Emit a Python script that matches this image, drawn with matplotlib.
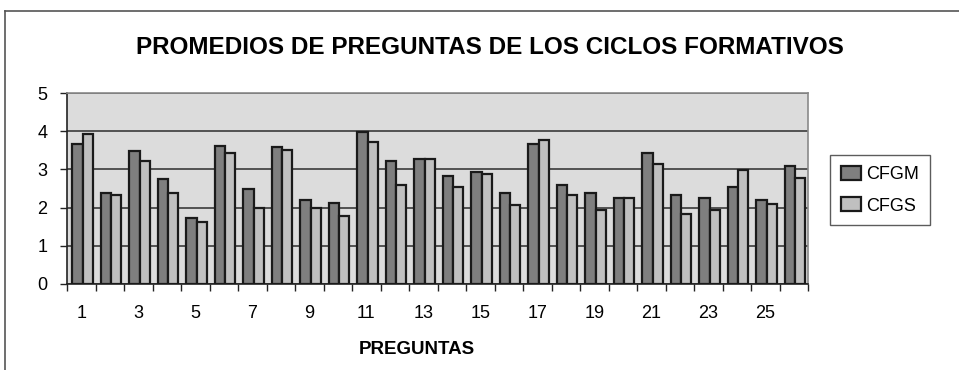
import matplotlib.pyplot as plt
import numpy as np
from matplotlib.lines import Line2D

plt.rcParams['font.family'] = ['Liberation Sans', 'DejaVu Sans']

preguntas = list(range(1, 27))
cfgm = [3.67, 2.38, 3.48, 2.74, 1.74, 3.62, 2.48, 3.58, 2.19, 2.13,
        3.98, 3.23, 3.28, 2.82, 2.93, 2.38, 3.67, 2.58, 2.38, 2.24,
        3.43, 2.33, 2.24, 2.53, 2.19, 3.08]
cfgs = [3.92, 2.33, 3.23, 2.38, 1.63, 3.43, 2.00, 3.52, 2.00, 1.79,
        3.72, 2.58, 3.28, 2.53, 2.88, 2.08, 3.77, 2.33, 1.93, 2.24,
        3.13, 1.84, 1.93, 2.98, 2.09, 2.78]
tick_labels = [str(p) if p % 2 == 1 else '' for p in preguntas]

fig = plt.figure(figsize=(9.59, 3.70), dpi=100)
ax = fig.add_axes([67 / 959, 86 / 370, 741 / 959, 191 / 370])
ax.set_facecolor('#dcdcdc')

x = np.array(preguntas)
w = 0.36
ax.bar(x - w / 2 + 0.05, cfgm, w, color='#7f7f7f', edgecolor='#1a1a1a',
       linewidth=1.6, label='CFGM', zorder=3)
ax.bar(x + w / 2 + 0.05, cfgs, w, color='#c0c0c0', edgecolor='#1a1a1a',
       linewidth=1.6, label='CFGS', zorder=3)

ax.set_xlim(0.5, 26.5)
ax.set_ylim(0, 5)
ax.set_yticks(range(6))
ax.yaxis.grid(True, color='#3a3a3a', linewidth=1.2, zorder=1)
ax.set_axisbelow(True)

# category ticks at the boundaries, labels on odd categories
ax.set_xticks(np.arange(0.5, 27, 1), minor=False)
ax.set_xticklabels([''] * 27)
ax.set_xticks(x, minor=True)
ax.set_xticklabels(tick_labels, minor=True)
ax.tick_params(axis='x', which='minor', length=0, pad=15, labelsize=13)
ax.tick_params(axis='x', which='major', length=5, width=1, color='#222222')
ax.tick_params(axis='y', length=5, width=1, color='#222222', labelsize=13, pad=9)

for s in ['top', 'right']:
    ax.spines[s].set_color('#8a8a8a')
    ax.spines[s].set_linewidth(1.2)
for s in ['left', 'bottom']:
    ax.spines[s].set_color('#222222')
    ax.spines[s].set_linewidth(1.2)

fig.text(417 / 959, 1 - 349 / 370, 'PREGUNTAS', ha='center', va='center',
         fontsize=13.5, fontweight='bold')

fig.text(490 / 959, 1 - 47 / 370, 'PROMEDIOS DE PREGUNTAS DE LOS CICLOS FORMATIVOS',
         ha='center', va='center', fontsize=17.5, fontweight='bold')

leg = fig.legend(loc='upper left', bbox_to_anchor=(830 / 959, 1 - 155 / 370),
                 fontsize=13, frameon=True, fancybox=False, edgecolor='#333333',
                 handlelength=1.1, handleheight=0.8, handletextpad=0.3,
                 labelspacing=0.8, borderpad=0.6, borderaxespad=0)
leg.get_frame().set_linewidth(1.0)

# outer chart border (top and left visible)
fig.add_artist(Line2D([5 / 959, 1], [1 - 11 / 370, 1 - 11 / 370],
                      transform=fig.transFigure, color='#555555', linewidth=1.2))
fig.add_artist(Line2D([5 / 959, 5 / 959], [0, 1 - 11 / 370],
                      transform=fig.transFigure, color='#555555', linewidth=1.2))

fig.savefig('out.png', dpi=100)
